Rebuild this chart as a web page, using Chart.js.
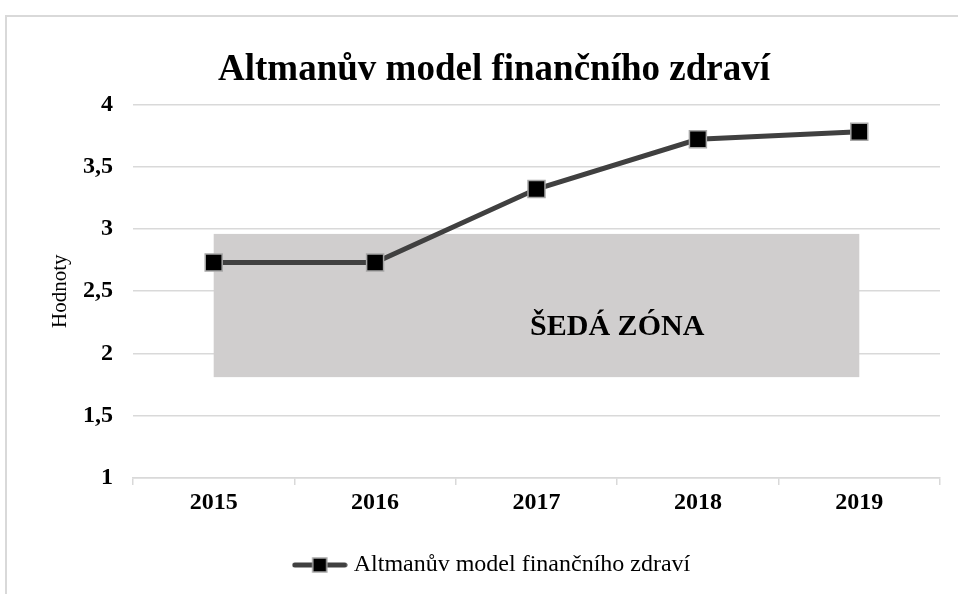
<!DOCTYPE html>
<html>
<head>
<meta charset="utf-8">
<script src="https://cdn.jsdelivr.net/npm/chart.js@4.4.0/dist/chart.umd.min.js"></script>
<style>
  html, body { margin: 0; padding: 0; background: #fff; }
  #wrap { position: relative; width: 958px; height: 594px; overflow: hidden; }
  #frame { position: absolute; left: 5px; top: 15px; width: 980px; height: 620px; border: 2px solid #d9d9d9; box-sizing: border-box; }
  canvas { position: absolute; left: 0; top: 0; }
</style>
</head>
<body>
<div id="wrap">
  <div id="frame"></div>
  <canvas id="lineChart" width="958" height="594"></canvas>
</div>
<script>
// data
const years = ['2015', '2016', '2017', '2018', '2019'];
const altmanValues = [2.73, 2.73, 3.32, 3.72, 3.78];
const grayZone = [1.81, 2.96];          // lower / upper bound of the gray zone
const grayZoneLabel = 'ŠEDÁ ZÓNA';
const seriesName = 'Altmanův model finančního zdraví';

const serif = '"Liberation Serif", "Times New Roman", serif';

// gray zone rectangle + label, drawn under the line
const grayZonePlugin = {
  id: 'grayZone',
  beforeDatasetsDraw(chart) {
    const { ctx, scales: { x, y } } = chart;
    const x0 = x.getPixelForValue(0);
    const x1 = x.getPixelForValue(years.length - 1);
    const yTop = y.getPixelForValue(grayZone[1]);
    const yBot = y.getPixelForValue(grayZone[0]);
    ctx.save();
    ctx.fillStyle = '#d0cece';
    ctx.fillRect(x0, yTop, x1 - x0, yBot - yTop);
    ctx.fillStyle = '#000';
    ctx.font = 'bold 30px ' + serif;
    ctx.textAlign = 'center';
    ctx.textBaseline = 'middle';
    ctx.fillText(grayZoneLabel, (x.getPixelForValue(2) + x.getPixelForValue(3)) / 2, y.getPixelForValue(2.21));
    ctx.restore();
  }
};

// legend symbol: line with square marker
const legendIcon = document.createElement('canvas');
legendIcon.width = 56;
legendIcon.height = 18;
(function () {
  const c = legendIcon.getContext('2d');
  c.strokeStyle = '#404040';
  c.lineWidth = 5;
  c.lineCap = 'round';
  c.beginPath();
  c.moveTo(3, 9);
  c.lineTo(53, 9);
  c.stroke();
  c.fillStyle = '#000';
  c.fillRect(21, 2, 14, 14);
  c.strokeStyle = '#a6a6a6';
  c.lineWidth = 1.5;
  c.strokeRect(21, 2, 14, 14);
})();

const ctx = document.getElementById('lineChart').getContext('2d');
new Chart(ctx, {
  type: 'line',
  data: {
    labels: years,
    datasets: [{
      label: seriesName,
      data: altmanValues,
      borderColor: '#404040',
      borderWidth: 5,
      pointStyle: 'rect',
      pointRadius: 12,
      pointBackgroundColor: '#000',
      pointBorderColor: '#a6a6a6',
      pointBorderWidth: 1.5,
      tension: 0
    }]
  },
  options: {
    responsive: false,
    animation: false,
    layout: { padding: { left: 48, right: 18, top: 0, bottom: 7 } },
    plugins: {
      title: {
        display: true,
        text: seriesName,
        color: '#000',
        font: { family: serif, size: 37, weight: 'bold' },
        padding: { top: 48, bottom: 12 }
      },
      legend: {
        position: 'bottom',
        labels: {
          color: '#000',
          font: { family: serif, size: 24 },
          usePointStyle: true,
          pointStyleWidth: 44,
          padding: 15,
          generateLabels(chart) {
            return chart.data.datasets.map((ds, i) => ({
              text: ds.label,
              pointStyle: legendIcon,
              datasetIndex: i,
              fontColor: '#000',
              hidden: false
            }));
          }
        }
      },
      tooltip: { enabled: false }
    },
    scales: {
      x: {
        offset: true,
        afterFit(scale) { scale.height = 60; },
        grid: {
          offset: true,
          drawOnChartArea: false,
          color: '#d9d9d9',
          lineWidth: 1.5,
          tickLength: 7
        },
        border: { color: '#d9d9d9', width: 1.5 },
        ticks: {
          color: '#000',
          padding: 3,
          font: { family: serif, size: 24, weight: 'bold' }
        }
      },
      y: {
        min: 1,
        max: 4,
        afterFit(scale) { scale.width = 133 - 48; },
        grid: { color: '#d9d9d9', lineWidth: 1.5, drawTicks: false },
        border: { display: false },
        title: {
          display: true,
          text: 'Hodnoty',
          color: '#000',
          padding: 0,
          font: { family: serif, size: 21 }
        },
        ticks: {
          stepSize: 0.5,
          padding: 20,
          color: '#000',
          font: { family: serif, size: 24, weight: 'bold' },
          callback: v => String(v).replace('.', ',')
        }
      }
    }
  },
  plugins: [grayZonePlugin]
});
</script>
</body>
</html>
